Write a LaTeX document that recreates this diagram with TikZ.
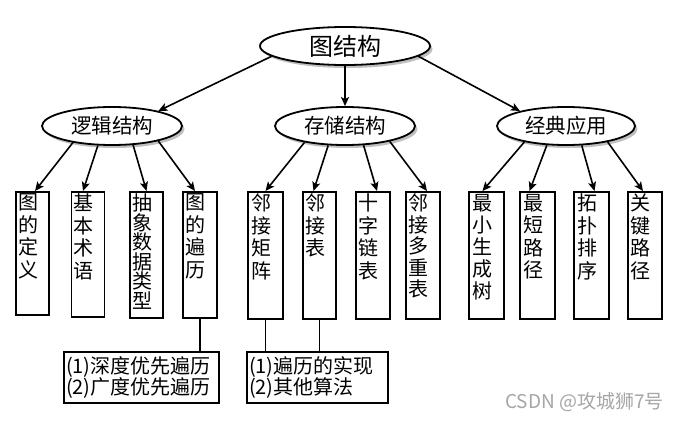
\documentclass[tikz,border=0pt]{standalone}
\usepackage{fontspec}
\setmainfont{Noto Sans CJK SC}
\usetikzlibrary{shapes.geometric,shadows,arrows.meta,calc}
\newcommand{\vcol}[3]{\parbox[c][#1][t]{29pt}{\fontsize{20}{#2}\selectfont\vspace*{2pt}#3}}
\begin{document}
\begin{tikzpicture}[x=1pt,y=-1pt,
  ell/.style={ellipse, draw, line width=1.8pt, fill=white, inner sep=0pt,
    drop shadow={shadow xshift=2.5pt,shadow yshift=-3pt,fill=black!50}},
  leaf/.style={draw, line width=1.8pt, inner xsep=2pt, inner ysep=0pt, anchor=north},
  arr/.style={line width=1.6pt, -{Stealth[length=9pt,width=8pt,inset=2pt]}},
  ln/.style={line width=1.6pt},
  sub/.style={draw, line width=1.8pt, inner xsep=2pt, inner ysep=0pt, align=left,
    minimum height=51pt, font=\fontsize{20}{21}\selectfont}]
\fill[white] (0,0) rectangle (679,420);
\useasboundingbox (0,0) rectangle (679,420);
% ellipses
\node[ell, minimum width=170pt, minimum height=38pt, font=\fontsize{24}{24}\selectfont] (root) at (345,46) {图结构};
\node[ell, minimum width=140pt, minimum height=38pt, font=\fontsize{20.5}{21}\selectfont] (lj) at (112,126) {逻辑结构};
\node[ell, minimum width=140pt, minimum height=38pt, font=\fontsize{20.5}{21}\selectfont] (cc) at (345,126) {存储结构};
\node[ell, minimum width=138pt, minimum height=38pt, font=\fontsize{20.5}{21}\selectfont] (jd) at (566,126) {经典应用};
% leaves
\node[leaf, minimum width=33pt] (a1) at (32.5,191) {\vcol{123pt}{22.5pt}{图\\的\\定\\义}};
\node[leaf, minimum width=32pt] (a2) at (88,191) {\vcol{125pt}{22.5pt}{基\\本\\术\\语}};
\node[leaf, minimum width=33pt] (a3) at (146.5,191) {\vcol{126pt}{19.5pt}{抽\\象\\数\\据\\类\\型}};
\node[leaf, minimum width=34pt] (a4) at (200,191) {\vcol{126pt}{22.5pt}{图\\的\\遍\\历}};
\node[leaf, minimum width=35pt] (b1) at (265.5,191) {\vcol{127pt}{22.5pt}{邻\\接\\矩\\阵}};
\node[leaf, minimum width=33pt] (b2) at (319.5,191) {\vcol{127pt}{22.5pt}{邻\\接\\表}};
\node[leaf, minimum width=34pt] (b3) at (373,191) {\vcol{127pt}{22.5pt}{十\\字\\链\\表}};
\node[leaf, minimum width=34pt] (b4) at (423,191) {\vcol{127pt}{21.5pt}{邻\\接\\多\\重\\表}};
\node[leaf, minimum width=35pt] (c1) at (486.5,191) {\vcol{127pt}{22pt}{最\\小\\生\\成\\树}};
\node[leaf, minimum width=35pt] (c2) at (537.5,191) {\vcol{127pt}{22.5pt}{最\\短\\路\\径}};
\node[leaf, minimum width=35pt] (c3) at (591.5,191) {\vcol{127pt}{22.5pt}{拓\\扑\\排\\序}};
\node[leaf, minimum width=34pt] (c4) at (645,191) {\vcol{127pt}{22.5pt}{关\\键\\路\\径}};
% sub boxes
\node[sub, text width=151pt] (s1) at (141.5,377.5) {(1)深度优先遍历\\(2)广度优先遍历};
\node[sub, text width=137pt] (s2) at (317.5,377.5) {(1)遍历的实现\\(2)其他算法};
% watermark
\node[text=black!35, font=\fontsize{19}{19}\selectfont, anchor=east, inner sep=0pt] (wm) at (664,402) {CSDN @攻城狮7号};
% connectors
\draw[arr] (root.188) -- (lj.18);
\draw[arr] (root.south) -- (cc.north);
\draw[arr] (root.352) -- (jd.162);
\draw[arr] (lj.203) -- ($(a1.north)+(2.5,0)$);
\draw[arr] (lj.234) -- ($(a2.north)+(-5,0)$);
\draw[arr] (lj.318) -- (a3.north);
\draw[arr] (lj.342) -- ($(a4.north)+(-5,0)$);
\draw[arr] (cc.202) -- (b1.north);
\draw[arr] (cc.229) -- ($(b2.north)+(-6,0)$);
\draw[arr] (cc.314) -- ($(b3.north)+(4,0)$);
\draw[arr] (cc.341) -- ($(b4.north)+(4,0)$);
\draw[arr] (jd.201) -- ($(c1.north)+(-4,0)$);
\draw[arr] (jd.225) -- ($(c2.north)+(-8,0)$);
\draw[arr] (jd.309) -- ($(c3.north)+(3,0)$);
\draw[arr] (jd.339) -- ($(c4.north)+(-2,0)$);
\draw[ln] (a4.south) -- (a4.south |- s1.north);
\draw[ln] (b1.south) -- (b1.south |- s2.north);
\draw[ln] (b2.south) -- (b2.south |- s2.north);
\end{tikzpicture}
\end{document}
